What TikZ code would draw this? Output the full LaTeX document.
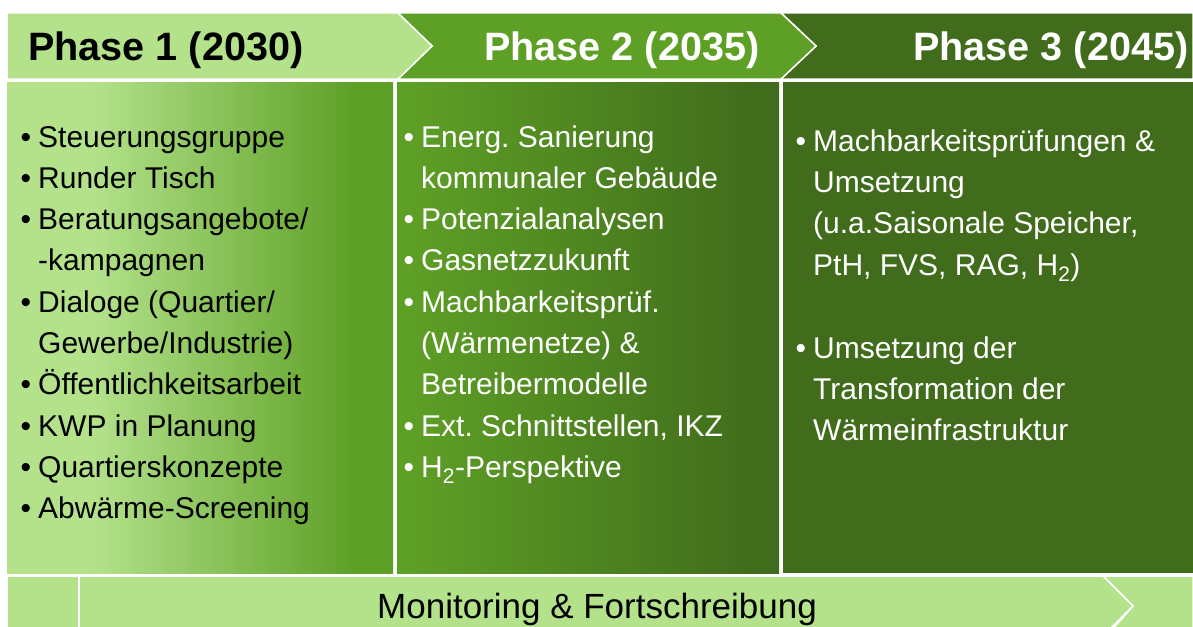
\documentclass[tikz,border=0pt]{standalone}
\usepackage{fontspec}
\setmainfont{Liberation Sans}
\definecolor{lgrn}{HTML}{B3E28B}
\definecolor{mgrn}{HTML}{5EA026}
\definecolor{dgrn}{HTML}{406C1B}
\pgfdeclarehorizontalshading{fadeone}{100bp}{color(0bp)=(lgrn); color(36bp)=(lgrn); color(70bp)=(mgrn); color(100bp)=(mgrn)}
\pgfdeclarehorizontalshading{fadetwo}{100bp}{color(0bp)=(mgrn); color(26bp)=(mgrn); color(72bp)=(dgrn); color(100bp)=(dgrn)}
\tikzset{
  band/.style={draw=white, line width=1.5pt},
  head/.style={font=\fontsize{39.6}{45}\selectfont\bfseries, anchor=base west, inner sep=0pt},
  txt/.style={font=\fontsize{30}{36}\selectfont, anchor=base west, inner sep=0pt},
}
\newcommand{\itm}{\llap{\textbullet\hspace{7pt}}}
\frenchspacing

\begin{document}
\begin{tikzpicture}[x=1pt, y=-1pt]
\useasboundingbox (0,0) rectangle (1193,626);
\clip (0,0) rectangle (1193,626);

% Phase banners, last one first so the chevrons lie on top.
\filldraw[band, fill=dgrn] (781,13) -- (1193,13) -- (1193,79) -- (781,79) -- (816,46) -- cycle;
\filldraw[band, fill=mgrn] (398,13) -- (781,13) -- (816,46) -- (781,79) -- (398,79) -- (432,46) -- cycle;
\filldraw[band, fill=lgrn] (7,13) -- (398,13) -- (432,46) -- (398,79) -- (7,79) -- cycle;
\node[head, text=black] (ph1) at (28,60) {Phase 1 (2030)};
\node[head, text=white] (ph2) at (484,60) {Phase 2 (2035)};
\node[head, text=white] (ph3) at (913,60) {Phase 3 (2045)};

% Panels below the banners.
\shade[shading=fadeone] (7,82) rectangle (393,573);
\shade[shading=fadetwo] (397,82) rectangle (779,573);
\fill[dgrn] (783,82) rectangle (1193,573);

% Phase 1 measures.
\foreach \t [count=\i from 0] in {\itm Steuerungsgruppe, \itm Runder Tisch,
    \itm Beratungsangebote/, -kampagnen, \itm Dialoge (Quartier/,
    Gewerbe/Industrie), \itm Öffentlichkeitsarbeit, \itm KWP in Planung,
    \itm Quartierskonzepte, \itm Abwärme-Screening}
  \node[txt, text=black] (a\i) at (38,{147+\i*41.3}) {\t};

% Phase 2 measures.
\foreach \t [count=\i from 0] in {\itm Energ. Sanierung, kommunaler Gebäude,
    \itm Potenzialanalysen, \itm Gasnetzzukunft, \itm Machbarkeitsprüf.,
    (Wärmenetze) \&, Betreibermodelle, {\itm Ext. Schnittstellen, IKZ},
    \itm H\textsubscript{2}-Perspektive}
  \node[txt, text=white] (b\i) at (421,{147+\i*41.3}) {\t};

% Phase 3 measures, one empty line between the two items.
\foreach \t/\k in {{\itm Machbarkeitsprüfungen \&}/0, Umsetzung/1,
    {(u.a.Saisonale Speicher,}/2, {PtH, FVS, RAG, H\textsubscript{2})}/3,
    {\itm Umsetzung der}/5, {Transformation der}/6, {Wärmeinfrastruktur}/7}
  \node[txt, text=white] (c\k) at (813,{151+\k*41.4}) {\t};

% Monitoring bar along the bottom.
\filldraw[band, fill=lgrn] (1103,576) -- (1193,576) -- (1193,640) -- (1103,640) -- (1133,606) -- cycle;
\filldraw[band, fill=lgrn] (79,576) -- (1103,576) -- (1133,606) -- (1103,636) -- (79,636) -- cycle;
\filldraw[band, fill=lgrn] (7,576) rectangle (79,640);
\node[font=\fontsize{35}{40}\selectfont, anchor=base, inner sep=0pt] (mon) at (597,618) {Monitoring \& Fortschreibung};

\end{tikzpicture}
\end{document}
